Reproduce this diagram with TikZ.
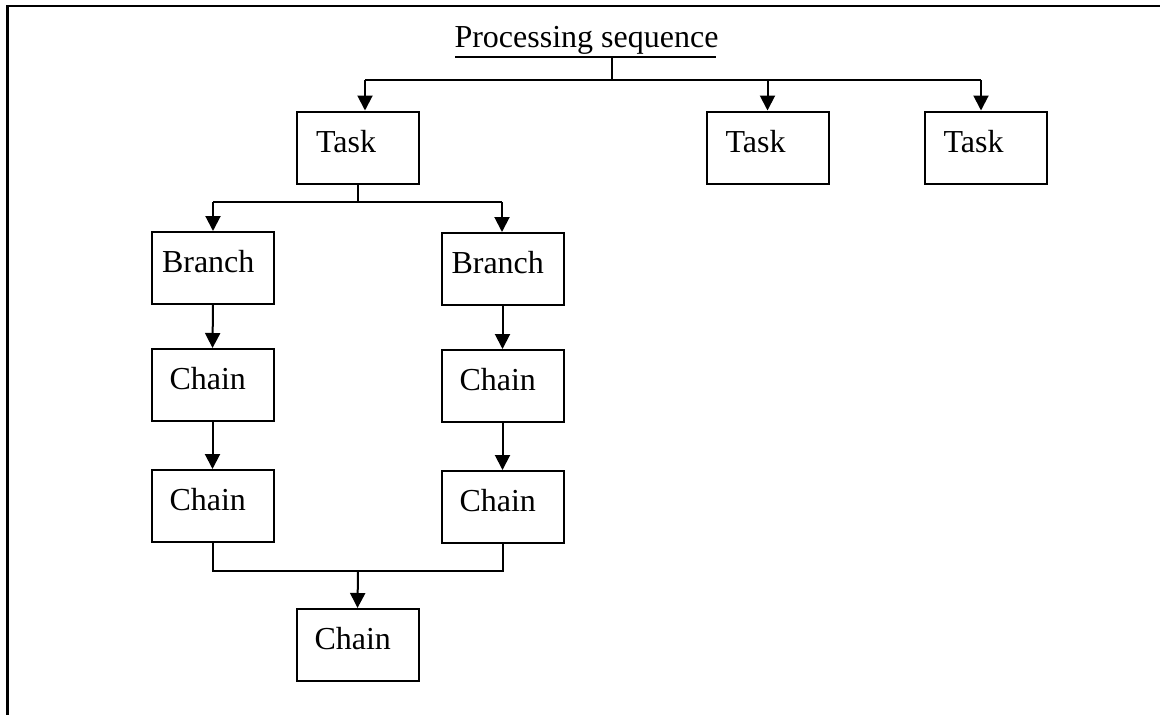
\documentclass[tikz,border=0pt]{standalone}
\usepackage{fontspec}
\setmainfont{Liberation Serif}
\usetikzlibrary{arrows.meta}
\begin{document}
\begin{tikzpicture}[x=1pt,y=-1pt,
  every node/.style={font=\fontsize{32}{38}\selectfont},
  box/.style={draw, rectangle, line width=2pt, minimum width=122pt, minimum height=72pt,
    text width=102pt, align=left, inner xsep=10pt, inner ysep=0pt,
    text height=40.5pt, text depth=31.5pt},
  conn/.style={line width=2pt},
  arr/.style={conn, -{Triangle[length=15pt,width=15pt]}},
  frame/.style={line width=2.5pt}]
\useasboundingbox (0,0) rectangle (1160,715);
% frame
\coordinate (fl) at (7.5,715);
\coordinate (fc) at (7.5,6);
\coordinate (fr) at (1160,6);
\draw[frame] (fl) -- (fc) -- (fr);
% title
\node[inner sep=0pt, anchor=base] (title) at (586.5,47) {Processing sequence};
\coordinate (ul) at (455,57);
\coordinate (ur) at (716,57);
\draw[conn] (ul) -- (ur);
\coordinate (ts) at (612,57);
\coordinate (tj) at (612,80);
% tasks
\node[box] (t1) at (358,147.5) {\hspace*{9pt}Task};
\node[box] (t2) at (767.5,147.5) {\hspace*{9pt}Task};
\node[box] (t3) at (985.5,147.5) {\hspace*{9pt}Task};
\draw[conn] (ts) -- (tj);
\coordinate (a1) at (365,80);
\coordinate (a3) at (981,80);
\draw[conn] (a1) -- (a3);
\draw[arr] (a1) -- (a1 |- t1.north);
\draw[arr] (t2.north |- tj) -- (t2.north);
\draw[arr] (a3) -- (a3 |- t3.north);
% branches
\node[box] (b1) at (213,268) {Branch};
\node[box] (b2) at (502.5,269) {Branch};
\coordinate (bj) at (358,202);
\draw[conn] (t1.south) -- (bj);
\coordinate (bl) at (213,202);
\coordinate (br) at (502,202);
\draw[conn] (bl) -- (br);
\draw[arr] (bl) -- (b1.north);
\draw[arr] (br) -- (br |- b2.north);
% chains
\node[box] (c11) at (212.5,385) {\hspace*{8pt}Chain};
\node[box] (c12) at (502.5,386) {\hspace*{8pt}Chain};
\node[box] (c21) at (212.5,506) {\hspace*{8pt}Chain};
\node[box] (c22) at (502.5,507) {\hspace*{8pt}Chain};
\draw[arr] (b1.south) -- (c11.north);
\draw[arr] (b2.south) -- (c12.north);
\draw[arr] (c11.south) -- (c21.north);
\draw[arr] (c12.south) -- (c22.north);
% merge
\node[box] (cf) at (357.5,645) {\hspace*{8pt}Chain};
\coordinate (mj) at (358,571);
\draw[conn] (c21.south) |- (mj) -| (c22.south);
\draw[arr] (mj) -- (cf.north);
\end{tikzpicture}
\end{document}
